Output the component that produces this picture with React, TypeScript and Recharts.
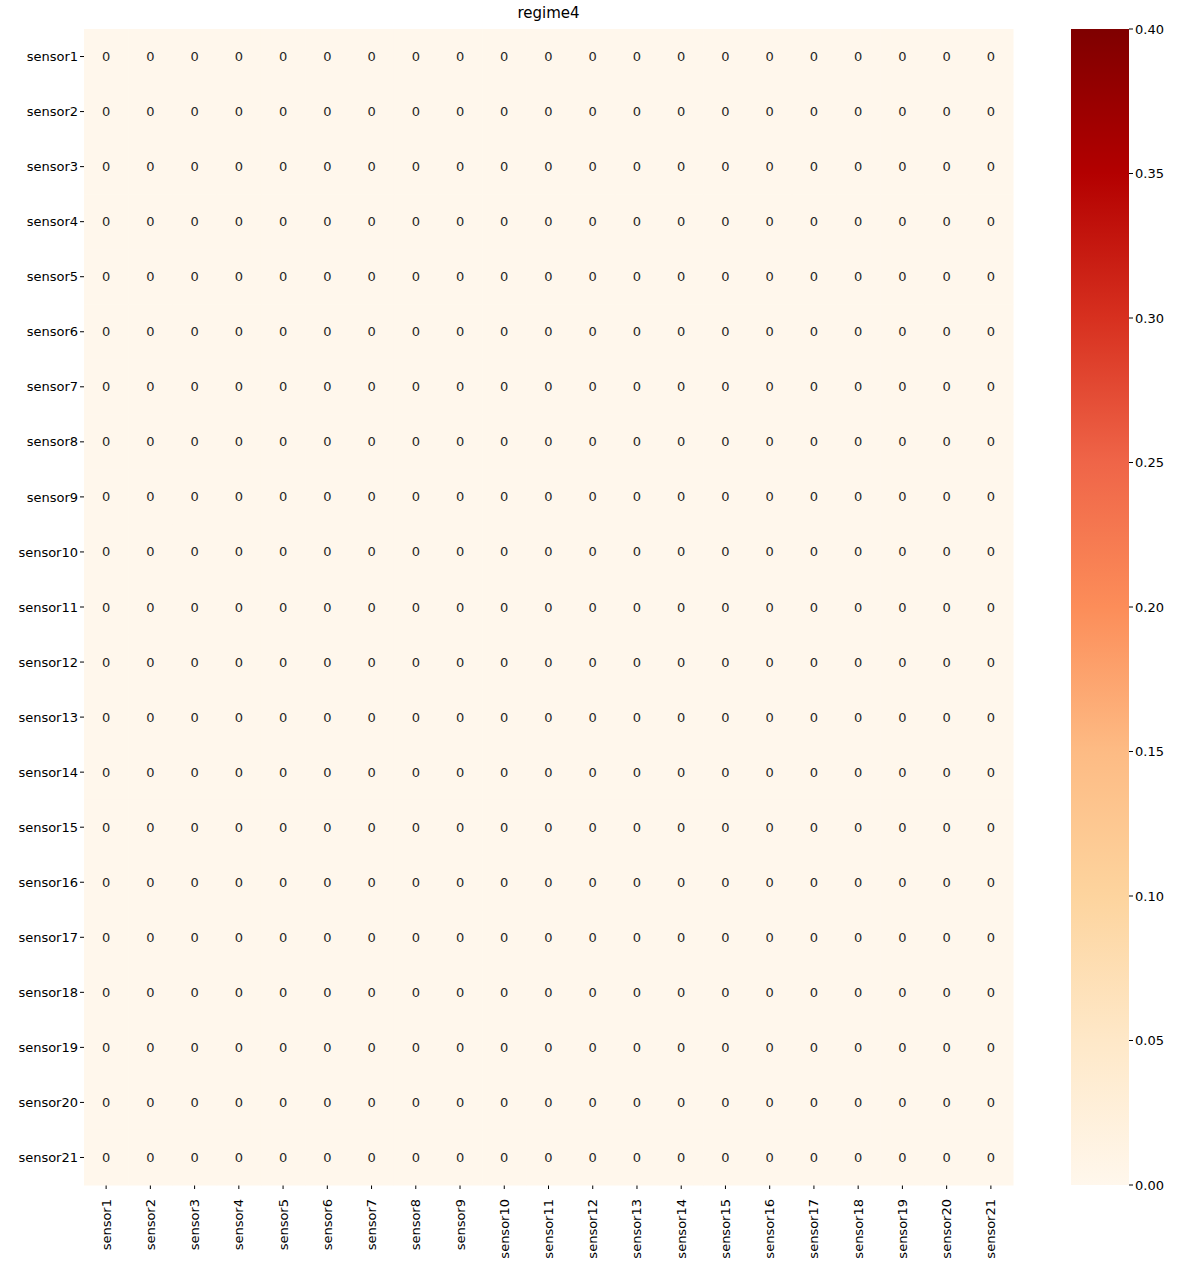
import { ScatterChart, Scatter, XAxis, YAxis, BarChart, Bar } from "recharts";

const sensors = Array.from({ length: 21 }, (_, i) => `sensor${i + 1}`);

// every cell shows 0
const values: number[][] = [
  [0,0,0,0,0,0,0,0,0,0,0,0,0,0,0,0,0,0,0,0,0],
  [0,0,0,0,0,0,0,0,0,0,0,0,0,0,0,0,0,0,0,0,0],
  [0,0,0,0,0,0,0,0,0,0,0,0,0,0,0,0,0,0,0,0,0],
  [0,0,0,0,0,0,0,0,0,0,0,0,0,0,0,0,0,0,0,0,0],
  [0,0,0,0,0,0,0,0,0,0,0,0,0,0,0,0,0,0,0,0,0],
  [0,0,0,0,0,0,0,0,0,0,0,0,0,0,0,0,0,0,0,0,0],
  [0,0,0,0,0,0,0,0,0,0,0,0,0,0,0,0,0,0,0,0,0],
  [0,0,0,0,0,0,0,0,0,0,0,0,0,0,0,0,0,0,0,0,0],
  [0,0,0,0,0,0,0,0,0,0,0,0,0,0,0,0,0,0,0,0,0],
  [0,0,0,0,0,0,0,0,0,0,0,0,0,0,0,0,0,0,0,0,0],
  [0,0,0,0,0,0,0,0,0,0,0,0,0,0,0,0,0,0,0,0,0],
  [0,0,0,0,0,0,0,0,0,0,0,0,0,0,0,0,0,0,0,0,0],
  [0,0,0,0,0,0,0,0,0,0,0,0,0,0,0,0,0,0,0,0,0],
  [0,0,0,0,0,0,0,0,0,0,0,0,0,0,0,0,0,0,0,0,0],
  [0,0,0,0,0,0,0,0,0,0,0,0,0,0,0,0,0,0,0,0,0],
  [0,0,0,0,0,0,0,0,0,0,0,0,0,0,0,0,0,0,0,0,0],
  [0,0,0,0,0,0,0,0,0,0,0,0,0,0,0,0,0,0,0,0,0],
  [0,0,0,0,0,0,0,0,0,0,0,0,0,0,0,0,0,0,0,0,0],
  [0,0,0,0,0,0,0,0,0,0,0,0,0,0,0,0,0,0,0,0,0],
  [0,0,0,0,0,0,0,0,0,0,0,0,0,0,0,0,0,0,0,0,0],
  [0,0,0,0,0,0,0,0,0,0,0,0,0,0,0,0,0,0,0,0,0],
];

const cbarTicks = [0, 0.05, 0.1, 0.15, 0.2, 0.25, 0.3, 0.35, 0.4];
const vmax = 0.4;
// OrRd stops, bottom to top
const orrd = ["#fff7ec", "#fee8c8", "#fdd49e", "#fdbb84", "#fc8d59", "#ef6548", "#d7301f", "#b30000", "#7f0000"];

function hex(c: string) {
  return [1, 3, 5].map((i) => parseInt(c.slice(i, i + 2), 16));
}
function colorFor(v: number) {
  const t = Math.max(0, Math.min(1, v / vmax)) * (orrd.length - 1);
  const i = Math.min(Math.floor(t), orrd.length - 2);
  const f = t - i;
  const a = hex(orrd[i]);
  const b = hex(orrd[i + 1]);
  const m = a.map((x, k) => Math.round(x + (b[k] - x) * f));
  return `rgb(${m.join(",")})`;
}

const cells = values.flatMap((row, r) =>
  row.map((v, c) => ({ x: c + 0.5, y: r + 0.5, v }))
);
const centers = sensors.map((_, i) => i + 0.5);
const font = "DejaVu Sans, sans-serif";

const cellW = 929 / 21;
const cellH = 1156 / 21;

const Cell = (p: any) => (
  <g>
    <rect x={p.cx - cellW / 2} y={p.cy - cellH / 2} width={cellW + 0.5} height={cellH + 0.5} fill={colorFor(p.payload.v)} />
    <text x={p.cx} y={p.cy + 4.5} textAnchor="middle" fontSize={13} fontFamily={font} fill="#262626">
      {p.payload.v}
    </text>
  </g>
);

const XTick = (p: any) => (
  <text x={p.x + 4.5} y={p.y + 8} transform={`rotate(-90 ${p.x + 4.5} ${p.y + 8})`} textAnchor="end" fontSize={13} fontFamily={font} fill="#000">
    {sensors[Math.floor(p.payload.value)]}
  </text>
);

export default function App() {
  return (
    <div style={{ position: "absolute", left: 0, top: 0, width: 1179, height: 1268, background: "#fff" }}>
      <div style={{ position: "absolute", left: 84, width: 929, top: 4, textAlign: "center", fontFamily: font, fontSize: 15 }}>
        regime4
      </div>
      <div style={{ position: "absolute", left: 0, top: 0 }}>
        <ScatterChart width={1020} height={1268} margin={{ top: 29, right: 7, bottom: 0, left: 0 }}>
          <XAxis type="number" dataKey="x" domain={[0, 21]} ticks={centers} interval={0} height={83}
            axisLine={false} tickSize={4} tickLine={{ stroke: "#000" }} tick={<XTick />} />
          <YAxis type="number" dataKey="y" domain={[0, 21]} reversed ticks={centers} interval={0} width={84}
            axisLine={false} tickSize={4} tickLine={{ stroke: "#000" }}
            tickFormatter={(v: number) => sensors[Math.floor(v)]}
            tick={{ fontSize: 13, fontFamily: font, fill: "#000" }} />
          <Scatter data={cells} shape={<Cell />} isAnimationActive={false} />
        </ScatterChart>
      </div>
      <div style={{ position: "absolute", left: 1071, top: 0 }}>
        <BarChart width={108} height={1268} data={[{ v: vmax }]} margin={{ top: 29, right: 0, bottom: 83, left: 0 }} barCategoryGap={0}>
          <defs>
            <linearGradient id="cbar" x1="0" y1="1" x2="0" y2="0">
              {orrd.map((c, i) => (
                <stop key={i} offset={i / (orrd.length - 1)} stopColor={c} />
              ))}
            </linearGradient>
          </defs>
          <XAxis hide dataKey="v" />
          <YAxis orientation="right" domain={[0, vmax]} ticks={cbarTicks} interval={0} width={50}
            axisLine={false} tickSize={4} tickLine={{ stroke: "#000" }}
            tickFormatter={(v: number) => v.toFixed(2)}
            tick={{ fontSize: 13, fontFamily: font, fill: "#000" }} />
          <Bar dataKey="v" fill="url(#cbar)" isAnimationActive={false} />
        </BarChart>
      </div>
    </div>
  );
}
